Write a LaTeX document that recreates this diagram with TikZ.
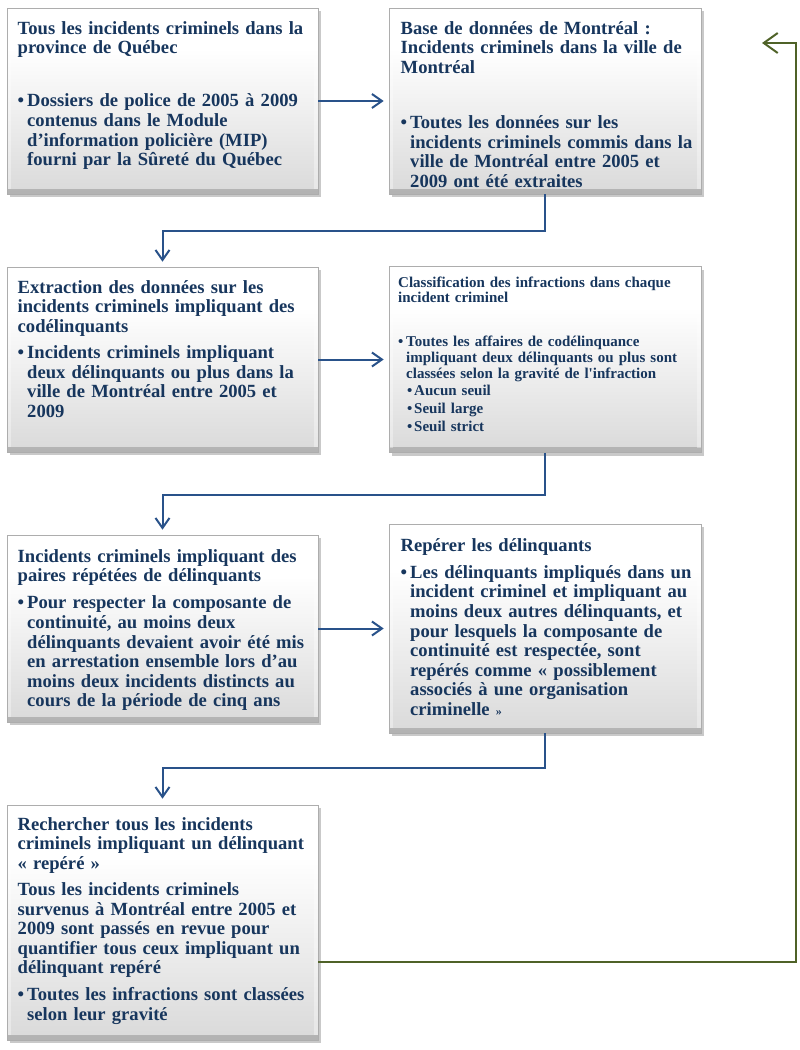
\documentclass[tikz,border=0pt]{standalone}
\usepackage{fontspec}
\setmainfont{Liberation Serif}[Ligatures=TeXOff]
\usetikzlibrary{arrows.meta,shadows}
\definecolor{txt}{RGB}{23,54,93}
\definecolor{ablue}{RGB}{41,82,138}
\definecolor{agreen}{RGB}{79,98,40}
\pgfdeclareverticalshading{boxshade}{100bp}{color(0bp)=(black!26); color(6bp)=(black!22); color(40bp)=(black!9); color(64bp)=(white); color(100bp)=(white)}
\setlength\parindent{0pt}
\setlength\parskip{0pt}
\newcommand{\nl}{\hfil\break}
\newcommand{\gap}[1]{\par\vspace{#1pt}}
\newcommand{\itm}[2][9.5pt]{\par\noindent\makebox[#1][l]{•}\parbox[t]{290pt}{\raggedright #2}\par}
\newcommand{\subitm}[1]{\par\vspace{2.3pt}\noindent\hspace*{9pt}\makebox[7pt][l]{•}\parbox[t]{270pt}{\raggedright #1}\par}
\begin{document}
\begin{tikzpicture}[x=1pt,y=-1pt,
  box/.style={rectangle, draw=black!32, line width=0.6pt, shading=boxshade, inner sep=0pt,
    drop shadow={shadow xshift=2.5pt, shadow yshift=-3pt, opacity=0.3, fill=black!70},
    path picture={
      \fill[top color=black!9, bottom color=black!30]
        (path picture bounding box.south west) rectangle ([yshift=5pt]path picture bounding box.south east);
      \fill[white, opacity=0.35]
        ([yshift=5pt]path picture bounding box.south west) rectangle ([xshift=4pt]path picture bounding box.north west);
      \fill[white, opacity=0.35]
        ([yshift=5pt]path picture bounding box.south east) rectangle ([xshift=-4pt]path picture bounding box.north east);
    }},
  lbox/.style={box, minimum width=311pt},
  rbox/.style={box, minimum width=312pt},
  big/.style={anchor=north west, inner sep=0pt, text width=300pt, align=left, text=txt,
    font=\fontsize{18.6}{19.6}\selectfont\bfseries},
  small/.style={anchor=north west, inner sep=0pt, text width=300pt, align=left, text=txt,
    font=\fontsize{15}{15.7}\selectfont\bfseries},
  barrow/.style={draw=ablue, line width=2pt, -{Straight Barb[length=10pt,width=14pt,line width=2pt]}},
  garrow/.style={draw=agreen, line width=2pt, -{Straight Barb[length=14pt,width=20pt,line width=2pt]}}
]
\useasboundingbox (0,0) rectangle (800,1050);

% boxes
\node[lbox, minimum height=186pt] (b1) at (162.5,101) {};
\node[rbox, minimum height=186pt] (b2) at (545,101) {};
\node[lbox, minimum height=185pt] (b3) at (162.5,359.5) {};
\node[rbox, minimum height=186pt] (b4) at (545,359.5) {};
\node[lbox, minimum height=187pt] (b5) at (162.5,628.5) {};
\node[rbox, minimum height=209pt] (b6) at (545,628.5) {};
\node[lbox, minimum height=235pt] (b7) at (162.5,922.5) {};

% texts
\node[big] (t1) at (17.5,19) {\rule{0pt}{15pt}Tous les incidents criminels dans la\nl province de Québec
\gap{33.4}
\itm{Dossiers de police de 2005 à 2009\nl contenus dans le Module\nl d’information policière (MIP)\nl fourni par la Sûreté du Québec}};

\node[big] (t2) at (400.5,19) {\rule{0pt}{15pt}Base de données de Montréal~:\nl Incidents criminels dans la ville de\nl Montréal
\gap{35.4}
\itm{Toutes les données sur les\nl incidents criminels commis dans la\nl ville de Montréal entre 2005 et\nl 2009 ont été extraites}};

\node[big] (t3) at (17.5,278) {\rule{0pt}{15pt}Extraction des données sur les\nl incidents criminels impliquant des\nl codélinquants
\gap{6.4}
\itm{Incidents criminels impliquant\nl deux délinquants ou plus dans la\nl ville de Montréal entre 2005 et\nl 2009}};

\node[small] (t4) at (398,275) {\rule{0pt}{12pt}Classification des infractions dans chaque\nl incident criminel
\gap{28.3}
\itm[8pt]{Toutes les affaires de codélinquance\nl impliquant deux délinquants ou plus sont\nl classées selon la gravité de l'infraction}
\subitm{Aucun seuil}
\subitm{Seuil large}
\subitm{Seuil strict}};

\node[big] (t5) at (17.5,547) {\rule{0pt}{15pt}Incidents criminels impliquant des\nl paires répétées de délinquants
\gap{7.4}
\itm{Pour respecter la composante de\nl continuité, au moins deux\nl délinquants devaient avoir été mis\nl en arrestation ensemble lors d’au\nl moins deux incidents distincts au\nl cours de la période de cinq ans}};

\node[big] (t6) at (400.5,536) {\rule{0pt}{15pt}Repérer les délinquants
\gap{7.4}
\itm{Les délinquants impliqués dans un\nl incident criminel et impliquant au\nl moins deux autres délinquants, et\nl pour lesquels la composante de\nl continuité est respectée, sont\nl repérés comme «~possiblement\nl associés à une organisation\nl criminelle~{\fontsize{12}{12}\selectfont »}}};

\node[big] (t7) at (17.5,815) {\rule{0pt}{15pt}Rechercher tous les incidents\nl criminels impliquant un délinquant\nl «~repéré~»
\gap{6.4}
Tous les incidents criminels\nl survenus à Montréal entre 2005 et\nl 2009 sont passés en revue pour\nl quantifier tous ceux impliquant un\nl délinquant repéré
\gap{7.4}
\itm{Toutes les infractions sont classées\nl selon leur gravité}};

% connectors
\draw[barrow, shorten >=5pt] (b1.east) -- (b2.west);
\draw[barrow, shorten >=5pt] (b3.east) -- (b4.west);
\draw[barrow, shorten >=5pt] (b5.east) -- (b6.west);
\draw[barrow, shorten >=5pt] (b2.south) -- ++(0,37) -| (b3.north);
\draw[barrow, shorten >=5pt] (b4.south) -- ++(0,42) -| (b5.north);
\draw[barrow, shorten >=6pt] (b6.south) -- ++(0,35) -| (b7.north);

\coordinate (g1) at (796,962);
\coordinate (g2) at (796,43);
\coordinate (gt) at (762,43);
\draw[garrow] (b7.east |- g1) -- (g1) -- (g2) -- (gt);
\end{tikzpicture}
\end{document}
